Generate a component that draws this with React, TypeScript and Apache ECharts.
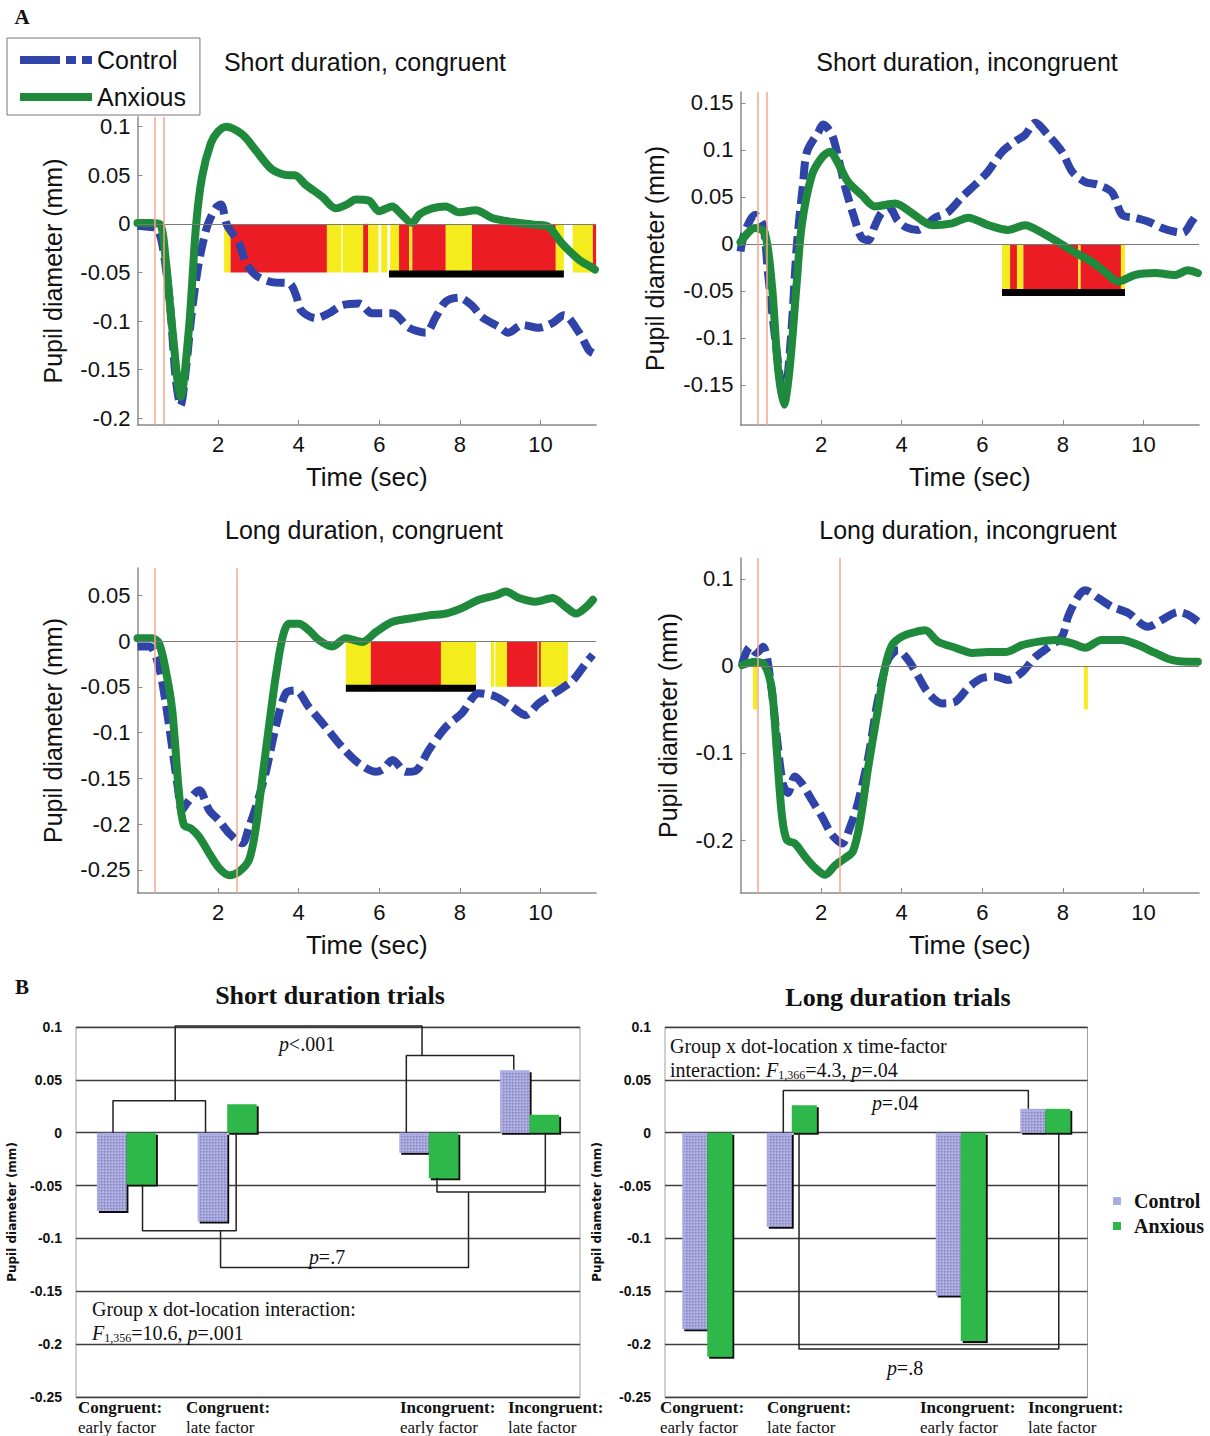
import React, { useEffect, useRef } from "react";
import * as echarts from "echarts";

// ---------------- DATA ----------------
// Panel A: time (s) / pupil diameter (mm)
const SC_CTRL = [[0,-0.002],[0.25,-0.003],[0.46,-0.004],[0.61,-0.02],[0.8,-0.08],[0.95,-0.16],[1.07,-0.187],[1.2,-0.15],[1.35,-0.09],[1.5,-0.045],[1.62,-0.02],[1.75,0.0],[1.95,0.017],[2.07,0.02],[2.22,-0.001],[2.52,-0.02],[2.69,-0.04],[2.94,-0.053],[3.34,-0.06],[3.76,-0.061],[3.93,-0.073],[4.06,-0.089],[4.43,-0.097],[4.75,-0.092],[5.07,-0.084],[5.5,-0.082],[5.82,-0.092],[6.32,-0.092],[6.74,-0.107],[7.15,-0.112],[7.4,-0.096],[7.65,-0.08],[7.98,-0.076],[8.3,-0.084],[8.55,-0.096],[8.97,-0.106],[9.2,-0.112],[9.55,-0.104],[9.96,-0.107],[10.3,-0.102],[10.58,-0.094],[10.96,-0.112],[11.2,-0.13],[11.3,-0.133]];
const SC_ANX = [[0,0.001],[0.3,0.001],[0.55,0.0],[0.7,-0.037],[0.86,-0.106],[1.07,-0.178],[1.28,-0.106],[1.45,-0.003],[1.6,0.048],[1.82,0.083],[2.0,0.095],[2.2,0.1],[2.6,0.092],[2.93,0.076],[3.34,0.056],[3.76,0.05],[3.9,0.05],[4.18,0.04],[4.58,0.028],[4.92,0.016],[5.2,0.02],[5.42,0.025],[5.74,0.024],[5.99,0.013],[6.32,0.018],[6.5,0.012],[6.81,0.001],[7.0,0.01],[7.31,0.016],[7.65,0.018],[7.98,0.012],[8.4,0.014],[8.8,0.006],[9.29,0.002],[9.89,-0.001],[10.2,-0.003],[10.53,-0.02],[10.96,-0.037],[11.28,-0.045],[11.35,-0.047]];

const SI_CTRL = [[0,-0.008],[0.11,0.013],[0.36,0.031],[0.56,0.02],[0.68,-0.03],[0.9,-0.115],[1.08,-0.165],[1.25,-0.1],[1.4,0.0],[1.55,0.063],[1.65,0.098],[1.93,0.119],[2.05,0.127],[2.27,0.116],[2.43,0.091],[2.6,0.06],[2.8,0.031],[3.0,0.007],[3.17,0.004],[3.34,0.02],[3.5,0.033],[3.7,0.038],[3.9,0.025],[4.1,0.018],[4.4,0.015],[4.6,0.02],[4.83,0.028],[5.15,0.034],[5.5,0.05],[5.82,0.063],[6.14,0.077],[6.49,0.098],[6.81,0.109],[7.06,0.116],[7.31,0.129],[7.63,0.116],[7.98,0.098],[8.23,0.077],[8.55,0.066],[8.87,0.063],[9.22,0.055],[9.47,0.031],[9.79,0.028],[10.11,0.024],[10.46,0.017],[10.78,0.013],[10.98,0.012],[11.2,0.024],[11.35,0.033]];
const SI_ANX = [[0,0.002],[0.36,0.017],[0.6,0.012],[0.78,-0.044],[0.93,-0.132],[1.08,-0.171],[1.22,-0.132],[1.39,-0.044],[1.52,0.02],[1.77,0.073],[2.02,0.092],[2.22,0.098],[2.42,0.086],[2.67,0.066],[3.01,0.052],[3.34,0.04],[3.84,0.043],[4.25,0.033],[4.75,0.02],[5.25,0.022],[5.65,0.028],[6.15,0.02],[6.64,0.015],[7.06,0.02],[7.48,0.012],[7.88,0.002],[8.3,-0.009],[8.72,-0.019],[9.05,-0.03],[9.37,-0.04],[9.79,-0.033],[10.29,-0.031],[10.78,-0.033],[11.1,-0.028],[11.35,-0.031]];

const LC_CTRL = [[0,-0.006],[0.3,-0.006],[0.53,-0.028],[0.7,-0.068],[0.86,-0.116],[1.0,-0.16],[1.1,-0.185],[1.23,-0.177],[1.53,-0.163],[1.78,-0.185],[2.02,-0.196],[2.27,-0.21],[2.6,-0.221],[2.77,-0.203],[2.94,-0.181],[3.18,-0.144],[3.43,-0.094],[3.68,-0.057],[3.93,-0.054],[4.25,-0.072],[4.67,-0.094],[5.08,-0.116],[5.5,-0.134],[5.92,-0.143],[6.1,-0.14],[6.33,-0.13],[6.66,-0.143],[6.9,-0.142],[7.23,-0.119],[7.65,-0.094],[8.05,-0.079],[8.47,-0.057],[8.9,-0.061],[9.3,-0.072],[9.63,-0.081],[9.96,-0.068],[10.38,-0.056],[10.8,-0.043],[11.13,-0.024],[11.3,-0.015]];
const LC_ANX = [[0,0.003],[0.36,0.003],[0.53,-0.002],[0.7,-0.032],[0.86,-0.075],[1.03,-0.166],[1.15,-0.201],[1.33,-0.205],[1.53,-0.214],[1.78,-0.232],[2.02,-0.248],[2.27,-0.256],[2.52,-0.252],[2.77,-0.239],[2.94,-0.203],[3.1,-0.149],[3.26,-0.094],[3.43,-0.039],[3.6,0.004],[3.76,0.019],[4.0,0.019],[4.25,0.012],[4.5,0.001],[4.83,-0.006],[5.17,0.003],[5.58,-0.001],[5.92,0.01],[6.33,0.021],[6.82,0.025],[7.23,0.028],[7.65,0.03],[8.05,0.036],[8.47,0.045],[8.9,0.05],[9.14,0.054],[9.47,0.047],[9.88,0.043],[10.3,0.047],[10.63,0.037],[10.88,0.03],[11.13,0.037],[11.3,0.045]];

const LI_CTRL = [[0.04,0.002],[0.24,0.022],[0.4,0.015],[0.56,0.022],[0.73,-0.012],[0.9,-0.081],[1.05,-0.135],[1.18,-0.146],[1.35,-0.127],[1.52,-0.135],[1.77,-0.154],[2.02,-0.173],[2.27,-0.194],[2.52,-0.204],[2.72,-0.185],[2.91,-0.158],[3.17,-0.105],[3.41,-0.039],[3.66,0.007],[3.91,0.018],[4.16,0.007],[4.41,-0.012],[4.66,-0.031],[5.0,-0.043],[5.33,-0.041],[5.65,-0.025],[5.99,-0.014],[6.32,-0.012],[6.64,-0.016],[6.99,-0.007],[7.31,0.01],[7.63,0.021],[7.98,0.034],[8.13,0.057],[8.38,0.08],[8.55,0.087],[8.88,0.078],[9.22,0.068],[9.62,0.061],[10.11,0.045],[10.46,0.053],[10.86,0.062],[11.1,0.059],[11.35,0.051]];
const LI_ANX = [[0.04,0.001],[0.36,0.005],[0.6,0.001],[0.78,-0.028],[0.9,-0.097],[1.03,-0.173],[1.15,-0.2],[1.35,-0.204],[1.6,-0.219],[1.85,-0.232],[2.1,-0.24],[2.35,-0.229],[2.59,-0.221],[2.79,-0.213],[2.96,-0.181],[3.17,-0.116],[3.38,-0.058],[3.59,-0.001],[3.76,0.024],[4.01,0.034],[4.33,0.039],[4.58,0.041],[4.9,0.028],[5.33,0.021],[5.75,0.015],[6.15,0.016],[6.57,0.016],[6.99,0.024],[7.4,0.028],[7.81,0.03],[8.23,0.026],[8.55,0.021],[8.96,0.03],[9.46,0.03],[9.87,0.024],[10.29,0.015],[10.7,0.007],[11.1,0.005],[11.35,0.005]];

// significance segments: [start s, end s, 1 = red / 0 = yellow]
const SEG_SC = [[2.15,2.31,0],[2.31,4.7,1],[4.7,5.06,0],[5.09,5.6,0],[5.6,5.72,1],[5.72,5.98,0],[6.05,6.2,0],[6.27,6.49,0],[6.49,6.74,1],[6.74,6.82,0],[6.82,7.65,1],[7.65,8.3,0],[8.3,10.38,1],[10.38,10.58,0],[10.8,11.3,0],[11.3,11.38,1]];
const SEG_SI = [[6.49,6.69,0],[6.69,6.86,1],[6.86,7.02,0],[7.02,8.38,1],[8.38,8.44,0],[8.44,9.44,1],[9.44,9.54,0]];
const SEG_LC = [[5.17,5.79,0],[5.79,7.53,1],[7.53,8.4,0],[8.77,8.85,0],[8.88,9.17,0],[9.17,9.93,1],[9.93,9.96,0],[9.96,10.01,1],[10.01,10.68,0]];
const SEG_LI = [[0.31,0.41,0],[8.52,8.62,0]];
// cluster-corrected windows (black bars): [start s, end s]
const BLACK_SC = [[6.24,10.58]];
const BLACK_SI = [[6.49,9.54]];
const BLACK_LC = [[5.17,8.4]];
const BLACK_LI = [];
// event markers (s)
const ONSETS_SHORT = [0.43, 0.66];
const ONSETS_LONG = [0.43, 2.46];

const X_TICKS = [2, 4, 6, 8, 10];
const Y_TICKS_SC = [-0.2, -0.15, -0.1, -0.05, 0, 0.05, 0.1];
const Y_TICKS_SI = [-0.15, -0.1, -0.05, 0, 0.05, 0.1, 0.15];
const Y_TICKS_LC = [-0.25, -0.2, -0.15, -0.1, -0.05, 0, 0.05];
const Y_TICKS_LI = [-0.2, -0.1, 0, 0.1];

// Panel B
const BAR_CATS = ["Congruent: early factor", "Congruent: late factor", "", "Incongruent: early factor", "Incongruent: late factor"];
const SHORT_CTRL = [-0.074, -0.084, null, -0.019, 0.059];
const SHORT_ANX = [-0.049, 0.027, null, -0.043, 0.017];
const LONG_CTRL = [-0.186, -0.089, null, -0.154, 0.0226];
const LONG_ANX = [-0.212, 0.026, null, -0.197, 0.0226];

// brackets in (slot position 0..5, mm)
const BR_S_TOPLEFT = [[0.367,0],[0.367,0.0303],[1.285,0.0303],[1.285,0]];
const BR_S_TOPRIGHT = [[3.277,0],[3.277,0.0731],[4.343,0.0731],[4.343,0.0596]];
const BR_S_TOP = [[0.984,0.0303],[0.984,0.101],[3.433,0.101],[3.433,0.0731]];
const BR_S_BOTLEFT = [[0.66,-0.049],[0.66,-0.0927],[1.589,-0.0927],[1.589,0]];
const BR_S_BOTRIGHT = [[3.581,-0.0426],[3.581,-0.0561],[4.656,-0.0561],[4.656,0]];
const BR_S_BOT = [[1.434,-0.0927],[1.434,-0.1274],[3.894,-0.1274],[3.894,-0.0561]];
const BR_L_TOP = [[1.4,0],[1.4,0.0399],[4.3,0.0399],[4.3,0.0226]];
const BR_L_BOT = [[1.586,0],[1.586,-0.2047],[4.66,-0.2047],[4.66,0]];

// ---------------- STYLE ----------------
const SANS = '"Liberation Sans", Arial, Helvetica, sans-serif';
const SERIF = '"Liberation Serif", "Times New Roman", serif';
const BLUE = "#2f43a8";
const GREEN = "#1f8a3c";
const RED = "#ec1c24";
const YELLOW = "#f4ec1c";
const ORANGE = "#f6a68c";
const LAVENDER = "#a6a6e2";
const BARGREEN = "#2fb84a";
const INK = "#111";
const X_MAX = 11.38;

const PANELS = [
  { grid: { left: 137.5, top: 117, width: 458.6, height: 308 }, yMin: -0.207, yMax: 0.11, yTicks: Y_TICKS_SC, gap: 72, ctrl: SC_CTRL, anx: SC_ANX, segs: SEG_SC, black: BLACK_SC, onsets: ONSETS_SHORT },
  { grid: { left: 740.5, top: 92, width: 458.6, height: 333 }, yMin: -0.1926, yMax: 0.1617, yTicks: Y_TICKS_SI, gap: 73, ctrl: SI_CTRL, anx: SI_ANX, segs: SEG_SI, black: BLACK_SI, onsets: ONSETS_SHORT },
  { grid: { left: 137.5, top: 568, width: 458.6, height: 325 }, yMin: -0.2754, yMax: 0.0798, yTicks: Y_TICKS_LC, gap: 72, ctrl: LC_CTRL, anx: LC_ANX, segs: SEG_LC, black: BLACK_LC, onsets: ONSETS_LONG },
  { grid: { left: 740.5, top: 558, width: 458.6, height: 335 }, yMin: -0.2609, yMax: 0.1241, yTicks: Y_TICKS_LI, gap: 60, ctrl: LI_CTRL, anx: LI_ANX, segs: SEG_LI, black: BLACK_LI, onsets: ONSETS_LONG },
];

function txt(x: number, y: number, text: string, size: number, family: string, weight = "normal", align = "left", extra: any = {}) {
  return {
    type: "text", x, y, silent: true, z: 100,
    style: { text, fontSize: size, fontFamily: family, fontWeight: weight, fill: INK, align, verticalAlign: "middle", textAlign: align, textVerticalAlign: "middle", ...extra },
  };
}

function richStyles(size: number) {
  return {
    n: { fontFamily: SERIF, fontSize: size, fill: INK, color: INK },
    i: { fontFamily: SERIF, fontSize: size, fontStyle: "italic", fill: INK, color: INK },
    s: { fontFamily: SERIF, fontSize: Math.round(size * 0.62), fill: INK, color: INK, padding: [10, 0, 0, 0] },
  };
}

function buildOption() {
  const grid: any[] = [];
  const xAxis: any[] = [];
  const yAxis: any[] = [];
  const series: any[] = [];

  PANELS.forEach((p, i) => {
    grid.push({ ...p.grid, containLabel: false });
    xAxis.push({
      gridIndex: i, type: "value", min: 0, max: X_MAX,
      axisLine: { onZero: false, lineStyle: { color: "#8a8a8a", width: 1.5 } },
      axisTick: { inside: true, length: 5, customValues: X_TICKS, lineStyle: { color: "#8a8a8a" } },
      axisLabel: { customValues: X_TICKS, fontSize: 22, color: INK, fontFamily: SANS, margin: 8 },
      splitLine: { show: false },
      name: "Time (sec)", nameLocation: "middle", nameGap: 39,
      nameTextStyle: { fontSize: 26, fontFamily: SANS, color: INK },
    });
    yAxis.push({
      gridIndex: i, type: "value", min: p.yMin, max: p.yMax,
      axisLine: { show: true, onZero: false, lineStyle: { color: "#8a8a8a", width: 1.5 } },
      axisTick: { inside: true, length: 5, customValues: p.yTicks, lineStyle: { color: "#8a8a8a" } },
      axisLabel: { customValues: p.yTicks, fontSize: 22, color: INK, fontFamily: SANS, margin: 7, formatter: (v: number) => String(Math.round(v * 1000) / 1000) },
      splitLine: { show: false },
      name: "Pupil diameter (mm)", nameLocation: "middle", nameRotate: 90, nameGap: p.gap,
      nameTextStyle: { fontSize: 25, fontFamily: SANS, color: INK },
    });
    series.push({
      type: "custom", name: "sig", xAxisIndex: i, yAxisIndex: i, data: p.segs, z: 1, silent: true,
      encode: { x: [0, 1] },
      renderItem: (params: any, api: any) => {
        const a = api.coord([api.value(0), 0]);
        const b = api.coord([api.value(1), -0.05]);
        return { type: "rect", shape: { x: a[0], y: a[1], width: b[0] - a[0], height: b[1] - a[1] }, style: { fill: api.value(2) === 1 ? RED : YELLOW } };
      },
      markLine: {
        silent: true, symbol: ["none", "none"], label: { show: false },
        data: [
          { yAxis: 0, lineStyle: { color: "#7a7a7a", width: 1, type: "solid" } },
          ...p.onsets.map((t) => ({ xAxis: t, lineStyle: { color: ORANGE, width: 1.5, type: "solid" } })),
        ],
      },
    });
    if (p.black.length) {
      series.push({
        type: "custom", name: "cluster", xAxisIndex: i, yAxisIndex: i, data: p.black, z: 2, silent: true,
        encode: { x: [0, 1] },
        renderItem: (params: any, api: any) => {
          const a = api.coord([api.value(0), -0.05]);
          const b = api.coord([api.value(1), -0.05]);
          return { type: "rect", shape: { x: a[0], y: a[1] - 2, width: b[0] - a[0], height: 7 }, style: { fill: "#000" } };
        },
      });
    }
    series.push({
      type: "line", name: "Control", xAxisIndex: i, yAxisIndex: i, data: p.ctrl, z: 3,
      symbol: "none", showSymbol: false, smooth: 0.3, silent: true,
      itemStyle: { color: BLUE },
      lineStyle: { color: BLUE, width: 8, type: [18, 7] },
    });
    series.push({
      type: "line", name: "Anxious", xAxisIndex: i, yAxisIndex: i, data: p.anx, z: 4,
      symbol: "none", showSymbol: false, smooth: 0.3, silent: true,
      itemStyle: { color: GREEN },
      lineStyle: { color: GREEN, width: 8, join: "round", cap: "round" },
    });
  });

  // Panel B grids
  const barGrids = [
    { grid: { left: 76, top: 1027, width: 504, height: 370 }, ctrl: SHORT_CTRL, anx: SHORT_ANX, barW: 29.5, gap: 58, brackets: [BR_S_TOPLEFT, BR_S_TOPRIGHT, BR_S_TOP, BR_S_BOTLEFT, BR_S_BOTRIGHT, BR_S_BOT] },
    { grid: { left: 665, top: 1027, width: 422.5, height: 370 }, ctrl: LONG_CTRL, anx: LONG_ANX, barW: 25, gap: 62, brackets: [BR_L_TOP, BR_L_BOT] },
  ];
  const catStart = xAxis.length; // 4
  barGrids.forEach((b) => {
    grid.push({ ...b.grid, show: true, borderColor: "#a0a0a0", borderWidth: 1, backgroundColor: "transparent" });
  });
  barGrids.forEach((b, k) => {
    xAxis.push({ gridIndex: 4 + k, type: "category", data: BAR_CATS, axisLine: { show: false }, axisTick: { show: false }, axisLabel: { show: false }, splitLine: { show: false } });
  });
  barGrids.forEach((b, k) => {
    xAxis.push({ gridIndex: 4 + k, type: "value", min: 0, max: 5, show: false, position: "top" });
  });
  barGrids.forEach((b, k) => {
    yAxis.push({
      gridIndex: 4 + k, type: "value", min: -0.25, max: 0.1, interval: 0.05,
      axisLine: { show: false }, axisTick: { show: false },
      splitLine: { show: true, lineStyle: { color: "#3c3c3c", width: 1.3 } },
      axisLabel: { fontFamily: SANS, fontWeight: "bold", fontSize: 14, color: INK, margin: 14 },
      name: "Pupil diameter (mm)", nameLocation: "middle", nameRotate: 90, nameGap: b.gap,
      nameTextStyle: { fontFamily: '"DejaVu Sans", sans-serif', fontWeight: "bold", fontSize: 12, color: INK },
    });
    const shadow = { shadowColor: "#111", shadowOffsetX: 2, shadowOffsetY: 2, shadowBlur: 0 };
    series.push({
      type: "bar", name: "ctrlBar", xAxisIndex: catStart + k, yAxisIndex: 4 + k, data: b.ctrl, barWidth: b.barW, barGap: "0%", z: 2, silent: true,
      itemStyle: { color: LAVENDER, ...shadow, decal: { symbol: "rect", symbolSize: 0.55, color: "rgba(255,255,255,0.5)", dashArrayX: [2, 1], dashArrayY: [2, 1], rotation: 0 } },
    });
    series.push({
      type: "bar", name: "anxBar", xAxisIndex: catStart + k, yAxisIndex: 4 + k, data: b.anx, barWidth: b.barW, barGap: "0%", z: 2, silent: true,
      itemStyle: { color: BARGREEN, ...shadow },
    });
    b.brackets.forEach((br) => {
      series.push({
        type: "line", name: "bracket", xAxisIndex: catStart + 2 + k, yAxisIndex: 4 + k, data: br, z: 5, clip: false,
        symbol: "none", showSymbol: false, silent: true,
        lineStyle: { color: "#222", width: 1.5 },
      });
    });
  });

  const serifRich20 = richStyles(20);
  const graphic = [
    txt(22, 17, "A", 21, SERIF, "bold", "center"),
    txt(22, 987, "B", 21, SERIF, "bold", "center"),
    txt(365, 62, "Short duration, congruent", 25, SANS, "normal", "center"),
    txt(967, 62, "Short duration, incongruent", 25, SANS, "normal", "center"),
    txt(364, 530, "Long duration, congruent", 25, SANS, "normal", "center"),
    txt(968, 530, "Long duration, incongruent", 25, SANS, "normal", "center"),
    txt(330, 995, "Short duration trials", 26, SERIF, "bold", "center"),
    txt(898, 997, "Long duration trials", 26, SERIF, "bold", "center"),
    // bar category labels
    txt(78, 1407, "Congruent:", 17, SERIF, "bold"), txt(78, 1427, "early factor", 17, SERIF),
    txt(186, 1407, "Congruent:", 17, SERIF, "bold"), txt(186, 1427, "late factor", 17, SERIF),
    txt(400, 1407, "Incongruent:", 17, SERIF, "bold"), txt(400, 1427, "early factor", 17, SERIF),
    txt(508, 1407, "Incongruent:", 17, SERIF, "bold"), txt(508, 1427, "late factor", 17, SERIF),
    txt(660, 1407, "Congruent:", 17, SERIF, "bold"), txt(660, 1427, "early factor", 17, SERIF),
    txt(767, 1407, "Congruent:", 17, SERIF, "bold"), txt(767, 1427, "late factor", 17, SERIF),
    txt(920, 1407, "Incongruent:", 17, SERIF, "bold"), txt(920, 1427, "early factor", 17, SERIF),
    txt(1028, 1407, "Incongruent:", 17, SERIF, "bold"), txt(1028, 1427, "late factor", 17, SERIF),
    // annotations
    txt(307, 1044, "{i|p}{n|<.001}", 20, SERIF, "normal", "center", { rich: serifRich20 }),
    txt(327, 1257, "{i|p}{n|=.7}", 20, SERIF, "normal", "center", { rich: serifRich20 }),
    txt(92, 1309, "Group x dot-location interaction:", 20, SERIF),
    txt(92, 1333, "{i|F}{s|1,356}{n|=10.6, }{i|p}{n|=.001}", 20, SERIF, "normal", "left", { rich: serifRich20 }),
    txt(670, 1046, "Group x dot-location x time-factor", 20, SERIF),
    txt(670, 1070, "{n|interaction: }{i|F}{s|1,366}{n|=4.3, }{i|p}{n|=.04}", 20, SERIF, "normal", "left", { rich: serifRich20 }),
    txt(895, 1103, "{i|p}{n|=.04}", 20, SERIF, "normal", "center", { rich: serifRich20 }),
    txt(905, 1368, "{i|p}{n|=.8}", 20, SERIF, "normal", "center", { rich: serifRich20 }),
  ];

  return {
    animation: false,
    backgroundColor: "#fff",
    grid, xAxis, yAxis, series, graphic,
    legend: [
      {
        data: [
          { name: "Control", icon: "path://M0,0H40V8H0Z M46,0H56V8H46Z M62,0H72V8H62Z" },
          { name: "Anxious", icon: "path://M0,0H72V8H0Z" },
        ],
        left: 7, top: 38, orient: "vertical", selectedMode: false,
        itemWidth: 72, itemHeight: 9, itemGap: 11, padding: [9, 14, 5, 13],
        borderColor: "#777", borderWidth: 1, backgroundColor: "#fff", z: 20,
        textStyle: { fontSize: 25, fontFamily: SANS, color: INK, lineHeight: 26 },
      },
      {
        data: ["ctrlBar", "anxBar"], left: 1108, top: 1186, orient: "vertical", selectedMode: false,
        icon: "rect", itemWidth: 8, itemHeight: 8, itemGap: 5,
        formatter: (n: string) => (n === "ctrlBar" ? "Control" : "Anxious"),
        textStyle: { fontFamily: SERIF, fontWeight: "bold", fontSize: 20, color: INK, padding: [0, 0, 0, 8] },
      },
    ],
  };
}

export default function App() {
  const ref = useRef<HTMLDivElement>(null);
  useEffect(() => {
    if (!ref.current) return;
    const chart = echarts.init(ref.current, null, { renderer: "svg" });
    chart.setOption(buildOption() as any);
    return () => chart.dispose();
  }, []);
  return <div ref={ref} style={{ position: "absolute", left: 0, top: 0, width: 1210, height: 1436, background: "#fff" }} />;
}
